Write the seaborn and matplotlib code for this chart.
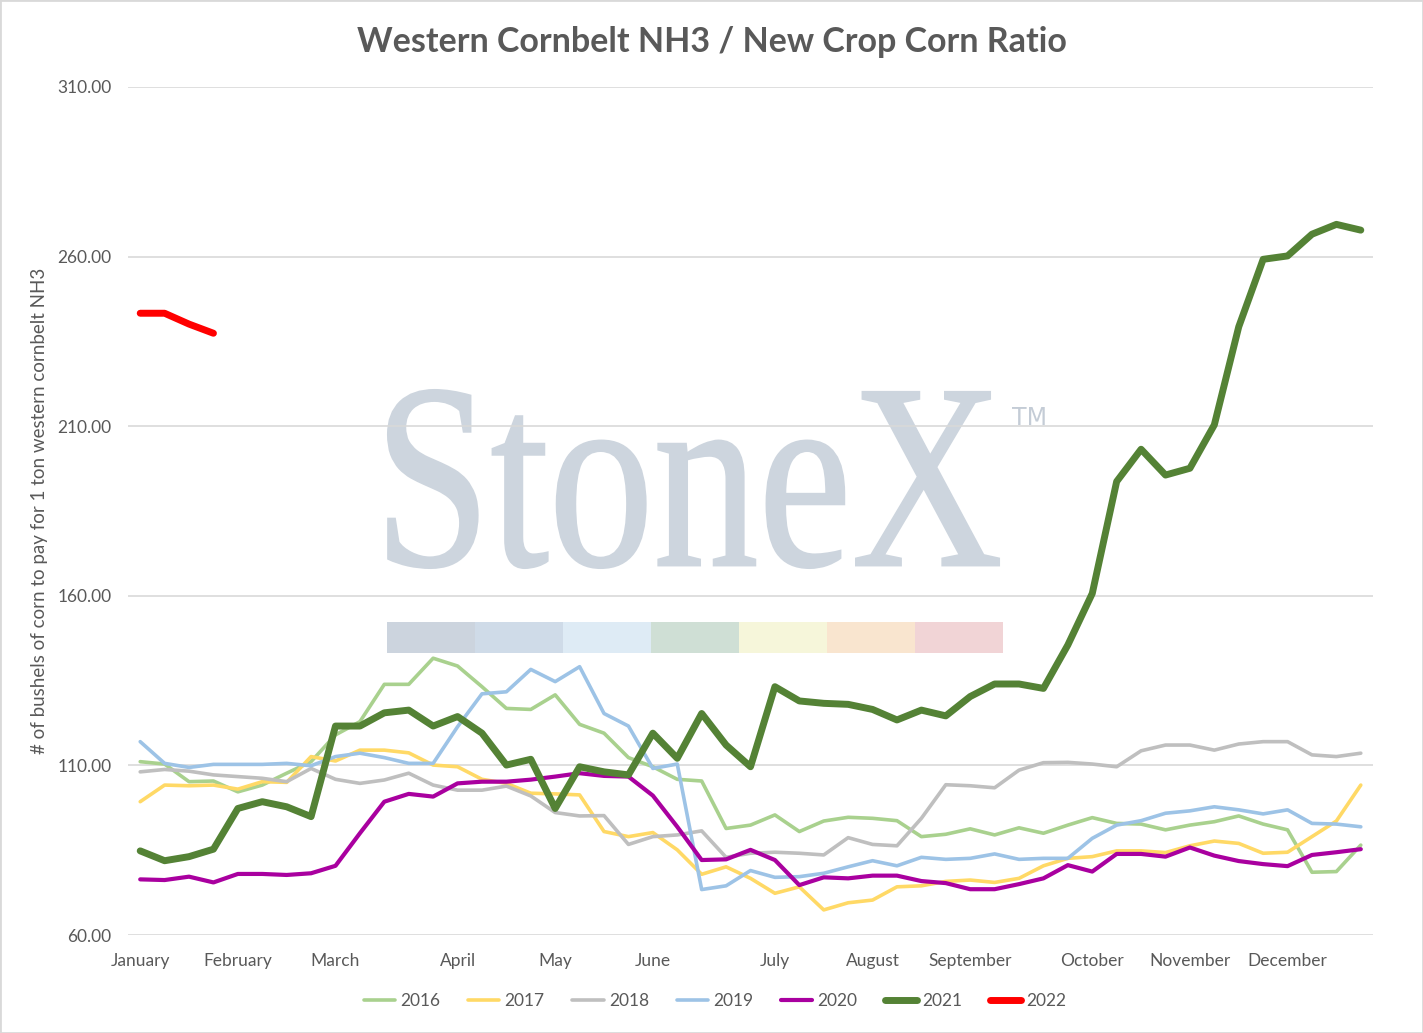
import numpy as np
import pandas as pd
import seaborn as sns
import matplotlib.pyplot as plt
from matplotlib.patches import Rectangle, PathPatch
from matplotlib.textpath import TextPath
from matplotlib.font_manager import FontProperties
from matplotlib.transforms import Affine2D

# Weekly ratio values (bushels of corn per ton of NH3), 51 weeks per year
y2016 = [111.1, 110.4, 105.2, 105.4, 102.2, 104.2, 107.7, 111.1, 119.0, 122.9, 133.9, 133.9, 141.6,
         139.3, 133.2, 126.8, 126.5, 130.8, 122.1, 119.5, 112.3, 109.6, 105.9, 105.4, 91.4, 92.4,
         95.4, 90.5, 93.6, 94.7, 94.4, 93.7, 89.0, 89.7, 91.3, 89.5, 91.6, 90.0, 92.4, 94.6, 92.9,
         92.7, 91.0, 92.4, 93.4, 95.1, 92.7, 91.0, 78.5, 78.7, 86.5]
y2017 = [99.3, 104.2, 104.0, 104.2, 103.0, 105.2, 105.0, 112.6, 111.3, 114.5, 114.5, 113.7, 110.1,
         109.6, 105.9, 104.7, 101.8, 101.6, 101.3, 90.5, 89.0, 90.2, 85.1, 77.9, 80.1, 76.7, 72.3,
         74.2, 67.4, 69.5, 70.3, 74.2, 74.5, 75.8, 76.2, 75.5, 76.7, 80.4, 82.6, 83.1, 84.8, 84.8,
         84.3, 86.3, 87.7, 87.0, 84.1, 84.4, 89.0, 93.6, 104.2]
y2018 = [108.1, 108.8, 108.3, 107.2, 106.7, 106.2, 105.2, 109.1, 105.9, 104.7, 105.7, 107.7, 104.2,
         102.7, 102.7, 103.9, 101.0, 96.1, 95.1, 95.2, 86.7, 89.0, 89.5, 90.7, 82.9, 84.1, 84.4,
         84.1, 83.6, 88.7, 86.7, 86.3, 94.4, 104.3, 104.0, 103.4, 108.6, 110.8, 110.9, 110.4, 109.6,
         114.3, 116.0, 116.0, 114.5, 116.3, 117.0, 117.0, 113.1, 112.6, 113.6]
y2019 = [117.0, 110.6, 109.4, 110.3, 110.3, 110.3, 110.6, 109.9, 112.6, 113.6, 112.3, 110.6, 110.6,
         121.4, 131.1, 131.7, 138.3, 134.7, 139.1, 125.3, 121.6, 109.1, 110.4, 73.4, 74.5, 79.0,
         77.0, 77.2, 78.2, 80.1, 81.9, 80.4, 82.9, 82.3, 82.6, 83.9, 82.3, 82.6, 82.6, 88.5, 92.4,
         93.7, 95.9, 96.6, 97.8, 96.9, 95.7, 96.9, 92.9, 92.7, 91.9]
y2020 = [76.4, 76.2, 77.2, 75.5, 78.0, 78.0, 77.7, 78.2, 80.4, 90.0, 99.3, 101.6, 100.8, 104.7,
         105.2, 105.2, 105.8, 106.7, 107.7, 106.9, 106.7, 101.1, 91.9, 82.1, 82.3, 85.1, 82.1, 74.7,
         77.0, 76.7, 77.5, 77.5, 75.9, 75.3, 73.5, 73.5, 75.0, 76.7, 80.6, 78.7, 83.9, 83.9, 83.1,
         85.8, 83.4, 81.8, 80.9, 80.3, 83.6, 84.4, 85.3]
y2021 = [84.8, 81.9, 83.1, 85.3, 97.3, 99.3, 97.8, 94.9, 121.6, 121.6, 125.5, 126.3, 121.6, 124.4,
         119.5, 110.1, 111.8, 97.3, 109.6, 108.1, 107.2, 119.5, 112.1, 125.3, 116.0, 109.6, 133.2,
         129.0, 128.3, 128.0, 126.5, 123.4, 126.3, 124.6, 130.3, 134.0, 134.0, 132.7, 145.5, 160.7,
         193.7, 203.2, 195.6, 197.6, 210.4, 239.3, 259.2, 260.2, 266.6, 269.5, 267.8]
y2022 = [243.3, 243.3, 240.1, 237.4]

years = ['2016', '2017', '2018', '2019', '2020', '2021', '2022']
series = [y2016, y2017, y2018, y2019, y2020, y2021, y2022]

# Month labels shown on the category axis (week index where each month starts)
month_weeks = [0, 4, 8, 13, 17, 21, 26, 30, 34, 39, 43, 47]
month_names = ['January', 'February', 'March', 'April', 'May', 'June', 'July',
               'August', 'September', 'October', 'November', 'December']
y_ticks = [60, 110, 160, 210, 260, 310]

# Colours and widths per year
colors = {
    '2016': '#a9d18e',
    '2017': '#ffd966',
    '2018': '#bfbfbf',
    '2019': '#9dc3e6',
    '2020': '#a9009f',
    '2021': '#548235',
    '2022': '#ff0000'
}
widths = {'2016': 2.6, '2017': 2.6, '2018': 2.6, '2019': 2.6, '2020': 3.0, '2021': 5.0, '2022': 5.0}

text_color = '#595959'
grid_color = '#d9d9d9'

sns.set_theme(style='white')
plt.rcParams['font.family'] = ['Lato', 'DejaVu Sans']

W, H = 1423, 1033
fig = plt.figure(figsize=(W / 100, H / 100), dpi=100)
ax = fig.add_axes([128 / W, 98 / H, 1245 / W, 848 / H])
ax.set_facecolor('none')

# Watermark: condensed serif "StoneX" plus a strip of pastel blocks
tp = TextPath((0, 0), 'StoneX', size=1, prop=FontProperties(family='Liberation Serif'))
ext = tp.get_extents()
tr = (Affine2D().translate(-ext.x0, -ext.y0)
      .scale(611 / ext.width / W, 178 / ext.height / H)
      .translate(388 / W, (H - 568) / H))
ax.add_patch(PathPatch(tr.transform_path(tp), transform=fig.transFigure,
                       facecolor='#cdd5de', edgecolor='#cdd5de', linewidth=1.5, zorder=0.1))
ax.text(1012 / W, (H - 425) / H, 'TM', transform=fig.transFigure, fontsize=17,
        color='#c4ccd6', family=['Liberation Sans Narrow', 'DejaVu Sans'], zorder=0.1)
strip_colors = ['#ccd4de', '#cfdbe8', '#deebf5', '#cfdfd5', '#f6f6da', '#f9e5cf', '#f1d4d6']
for i, c in enumerate(strip_colors):
    ax.add_patch(Rectangle(((387 + i * 88) / W, (H - 653) / H), 88 / W, 31 / H,
                           transform=fig.transFigure, facecolor=c, edgecolor='none', zorder=0.1))

# Draw each year
for name, vals in zip(years, series):
    df = pd.DataFrame({'week': np.arange(len(vals)), 'ratio': vals})
    sns.lineplot(data=df, x='week', y='ratio', ax=ax, color=colors[name], linewidth=widths[name],
                 label=name, solid_capstyle='round', solid_joinstyle='round', legend=False)

ax.set_xlim(-0.5, 50.5)
ax.set_ylim(60, 310)
ax.set_yticks(y_ticks)
ax.set_yticklabels([f'{v:.2f}' for v in y_ticks])
ax.set_xticks(month_weeks)
ax.set_xticklabels(month_names)
ax.tick_params(axis='both', length=0, labelsize=12.5, labelcolor=text_color)
ax.tick_params(axis='y', pad=12)
ax.tick_params(axis='x', pad=13)
ax.grid(axis='y', color=grid_color, linewidth=1.2)
ax.grid(axis='x', visible=False)
ax.set_axisbelow(True)
for s in ax.spines.values():
    s.set_visible(False)

ax.set_xlabel('')
ax.set_ylabel('# of bushels of corn to pay for 1 ton western cornbelt NH3', fontsize=13.5,
              color=text_color)
ax.yaxis.set_label_coords(-80 / 1245, 0.5)

fig.text(712 / W, 1 - 42 / H, 'Western Cornbelt NH3 / New Crop Corn Ratio', ha='center',
         va='center', fontsize=24.5, fontweight='bold', color=text_color)

handles, labels = ax.get_legend_handles_labels()
leg = fig.legend(handles, labels, loc='center', bbox_to_anchor=(715 / W, 1 - 1001 / H), ncol=7,
                 frameon=False, fontsize=12.5, handlelength=1.8, handletextpad=0.3,
                 columnspacing=1.6)
for t in leg.get_texts():
    t.set_color(text_color)

# Thin outer border
fig.add_artist(Rectangle((0, 0), 1, 1, transform=fig.transFigure, fill=False,
                         edgecolor=grid_color, linewidth=2))

plt.savefig('out.png', dpi=100)
plt.close()
